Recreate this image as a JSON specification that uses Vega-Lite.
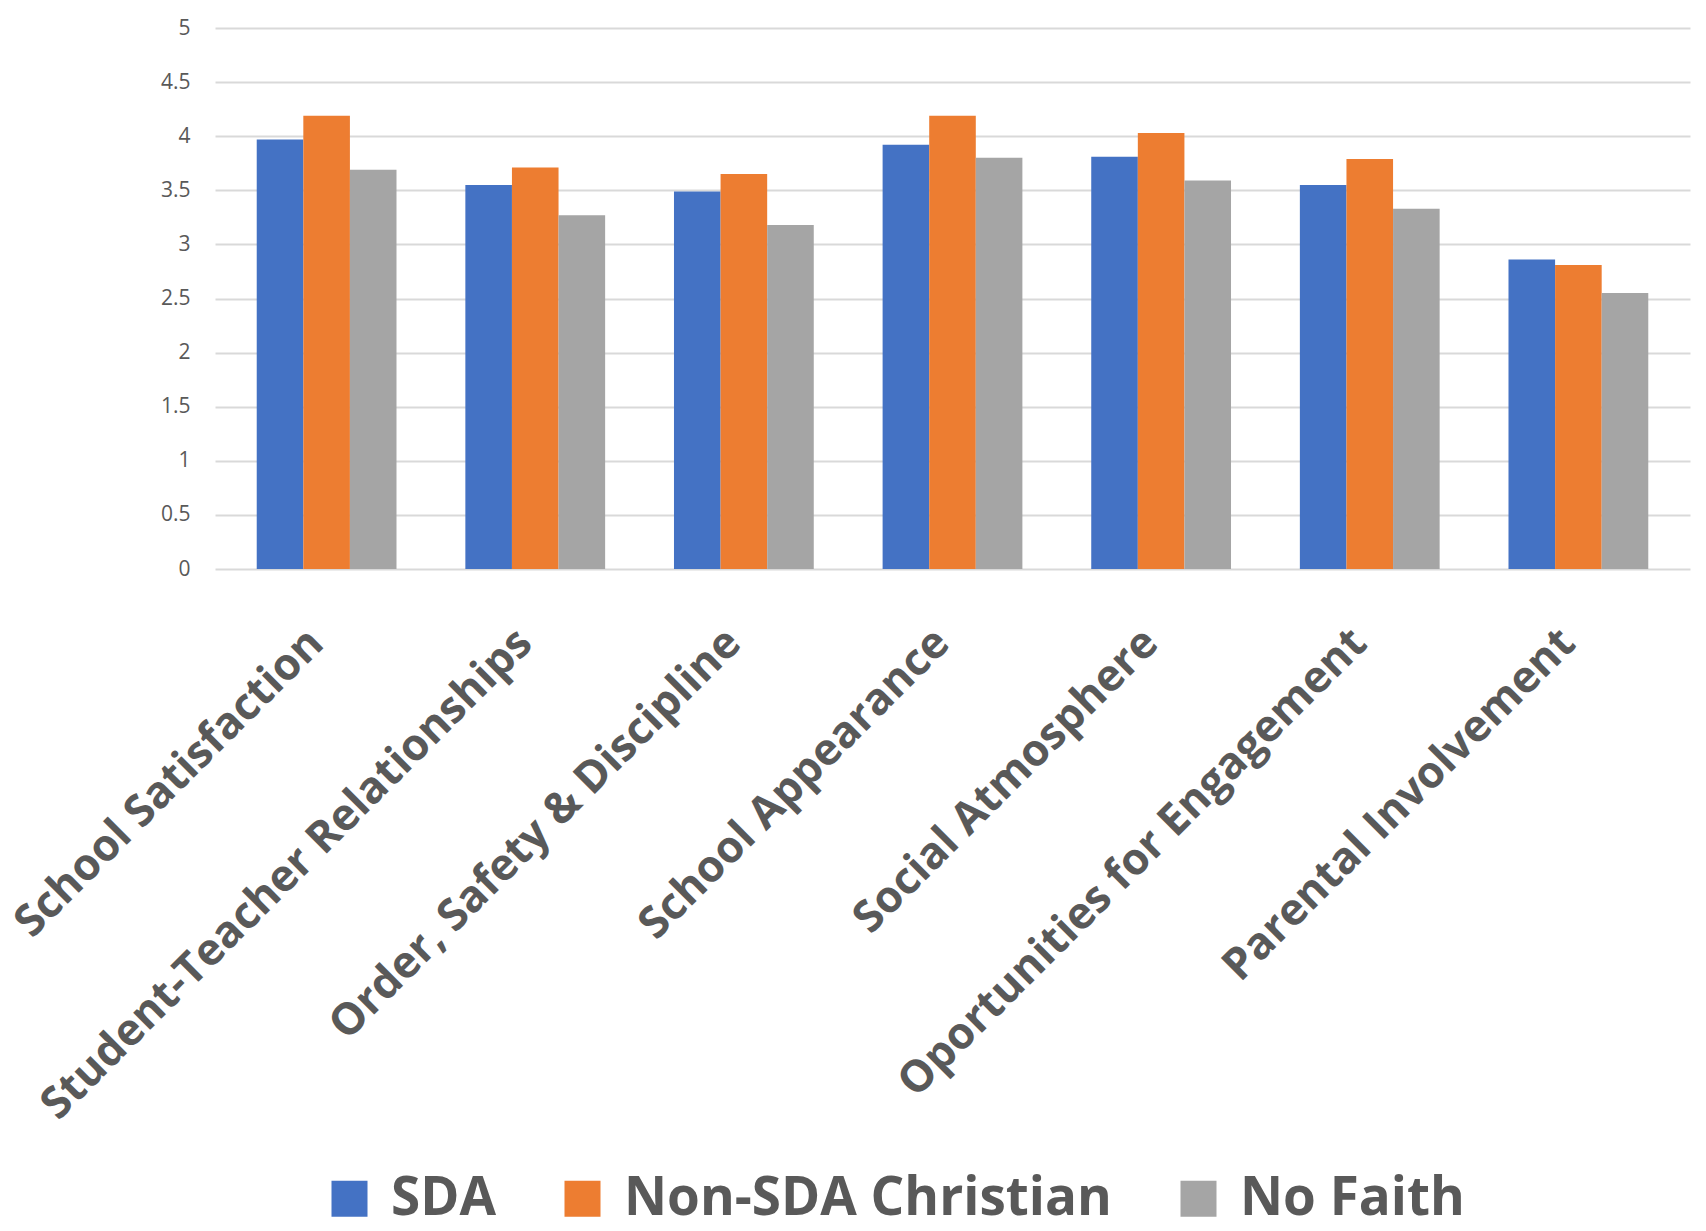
{
  "$schema": "https://vega.github.io/schema/vega-lite/v6.json",
  "autosize": {"type": "none"},
  "padding": {"left": 215, "top": 28, "right": 16, "bottom": 662},
  "width": 1475,
  "height": 541,
  "background": "white",
  "data": {
    "values": [
      {"category": "School Satisfaction", "group": "SDA", "value": 3.97},
      {"category": "School Satisfaction", "group": "Non-SDA Christian", "value": 4.19},
      {"category": "School Satisfaction", "group": "No Faith", "value": 3.69},
      {"category": "Student-Teacher Relationships", "group": "SDA", "value": 3.55},
      {"category": "Student-Teacher Relationships", "group": "Non-SDA Christian", "value": 3.71},
      {"category": "Student-Teacher Relationships", "group": "No Faith", "value": 3.27},
      {"category": "Order, Safety & Discipline", "group": "SDA", "value": 3.49},
      {"category": "Order, Safety & Discipline", "group": "Non-SDA Christian", "value": 3.65},
      {"category": "Order, Safety & Discipline", "group": "No Faith", "value": 3.18},
      {"category": "School Appearance", "group": "SDA", "value": 3.92},
      {"category": "School Appearance", "group": "Non-SDA Christian", "value": 4.19},
      {"category": "School Appearance", "group": "No Faith", "value": 3.8},
      {"category": "Social Atmosphere", "group": "SDA", "value": 3.81},
      {"category": "Social Atmosphere", "group": "Non-SDA Christian", "value": 4.03},
      {"category": "Social Atmosphere", "group": "No Faith", "value": 3.59},
      {"category": "Oportunities for Engagement", "group": "SDA", "value": 3.55},
      {"category": "Oportunities for Engagement", "group": "Non-SDA Christian", "value": 3.79},
      {"category": "Oportunities for Engagement", "group": "No Faith", "value": 3.33},
      {"category": "Parental Involvement", "group": "SDA", "value": 2.86},
      {"category": "Parental Involvement", "group": "Non-SDA Christian", "value": 2.81},
      {"category": "Parental Involvement", "group": "No Faith", "value": 2.55}
    ]
  },
  "mark": {"type": "bar"},
  "encoding": {
    "x": {
      "field": "category",
      "type": "nominal",
      "sort": null,
      "scale": {"paddingInner": 0.33, "paddingOuter": 0.2},
      "axis": {
        "title": null,
        "labelAngle": -45,
        "labelAlign": "right",
        "labelBaseline": "middle",
        "labelFont": "Open Sans",
        "labelFontSize": 44,
        "labelFontWeight": "bold",
        "labelColor": "#595959",
        "labelPadding": 67,
        "labelOffset": -10,
        "labelLimit": 0,
        "domain": false,
        "ticks": false
      }
    },
    "xOffset": {
      "field": "group",
      "type": "nominal",
      "sort": ["SDA", "Non-SDA Christian", "No Faith"],
      "scale": {"paddingInner": 0, "paddingOuter": 0}
    },
    "y": {
      "field": "value",
      "type": "quantitative",
      "scale": {"domain": [0, 5], "nice": false},
      "axis": {
        "title": null,
        "values": [0, 0.5, 1, 1.5, 2, 2.5, 3, 3.5, 4, 4.5, 5],
        "format": "~g",
        "labelFont": "Open Sans",
        "labelFontSize": 21,
        "labelColor": "#595959",
        "labelPadding": 25,
        "gridColor": "#d9d9d9",
        "gridWidth": 2,
        "domain": false,
        "ticks": false
      }
    },
    "color": {
      "field": "group",
      "type": "nominal",
      "sort": ["SDA", "Non-SDA Christian", "No Faith"],
      "scale": {"domain": ["SDA", "Non-SDA Christian", "No Faith"], "range": ["#4472C4", "#ED7D31", "#A5A5A5"]},
      "legend": {
        "title": null,
        "orient": "none",
        "direction": "horizontal",
        "legendX": 108,
        "legendY": 1144,
        "symbolType": "square",
        "symbolSize": 1296,
        "symbolStrokeWidth": 0,
        "labelFont": "Open Sans",
        "labelFontSize": 53,
        "labelFontWeight": "bold",
        "labelColor": "#595959",
        "labelOffset": 15,
        "columnPadding": 60,
        "labelLimit": 0
      }
    }
  },
  "config": {"view": {"stroke": null}}
}
